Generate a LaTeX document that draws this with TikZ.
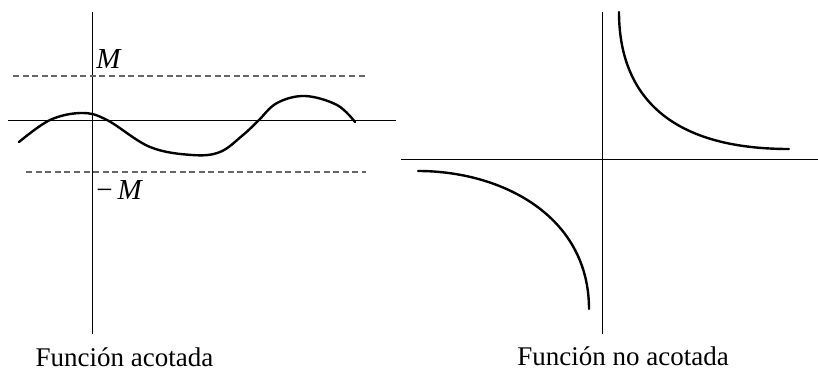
\documentclass[tikz,border=0pt]{standalone}
\usepackage{fontspec}
\setmainfont{Liberation Serif}
\tikzset{eje/.style={black, line width=0.5pt},
  cota/.style={black!60, line width=0.6pt, dash pattern=on 3pt off 1.8pt},
  grafica/.style={black, line width=1.2pt, line cap=round},
  rotulo/.style={font=\fontsize{13.5}{16}\selectfont, inner sep=0pt},
  letra/.style={font=\fontsize{14.5}{17}\selectfont\itshape, inner sep=0pt, anchor=west}}

\begin{document}
\begin{tikzpicture}[x=0.5pt, y=0.5pt]
  \useasboundingbox (0,0) rectangle (818,370);
  % funcion acotada
  \draw[eje] (92,358) -- (92,36);
  \draw[eje] (8,249) -- (396,249);
  \draw[cota] (13,294) -- (366,294);
  \draw[cota] (26,198) -- (366,198);
  \draw[grafica] plot[smooth, tension=0.6] coordinates {(19,228) (50,250) (82,257)
    (107,250) (150,223) (192,215) (220,218) (243,235) (258,249) (277,267)
    (305,274) (337,265) (355,248)};
  \node[letra] (M) at (96,311) {M};
  \node[letra] (menosM) at (96,180) {\upshape−\,\itshape M};
  \node[rotulo, anchor=base] (acotada) at (124.5,4) {Función acotada};
  % funcion no acotada
  \draw[eje] (602,358) -- (602,36);
  \draw[eje] (401,211) -- (818,211);
  \draw[grafica] (619,358) .. controls (619,285) and (658,221) .. (789,221);
  \draw[grafica] (418,199) .. controls (502,199) and (589,154) .. (589,61);
  \node[rotulo, anchor=base] (noacotada) at (623,5) {Función no acotada};
\end{tikzpicture}
\end{document}
